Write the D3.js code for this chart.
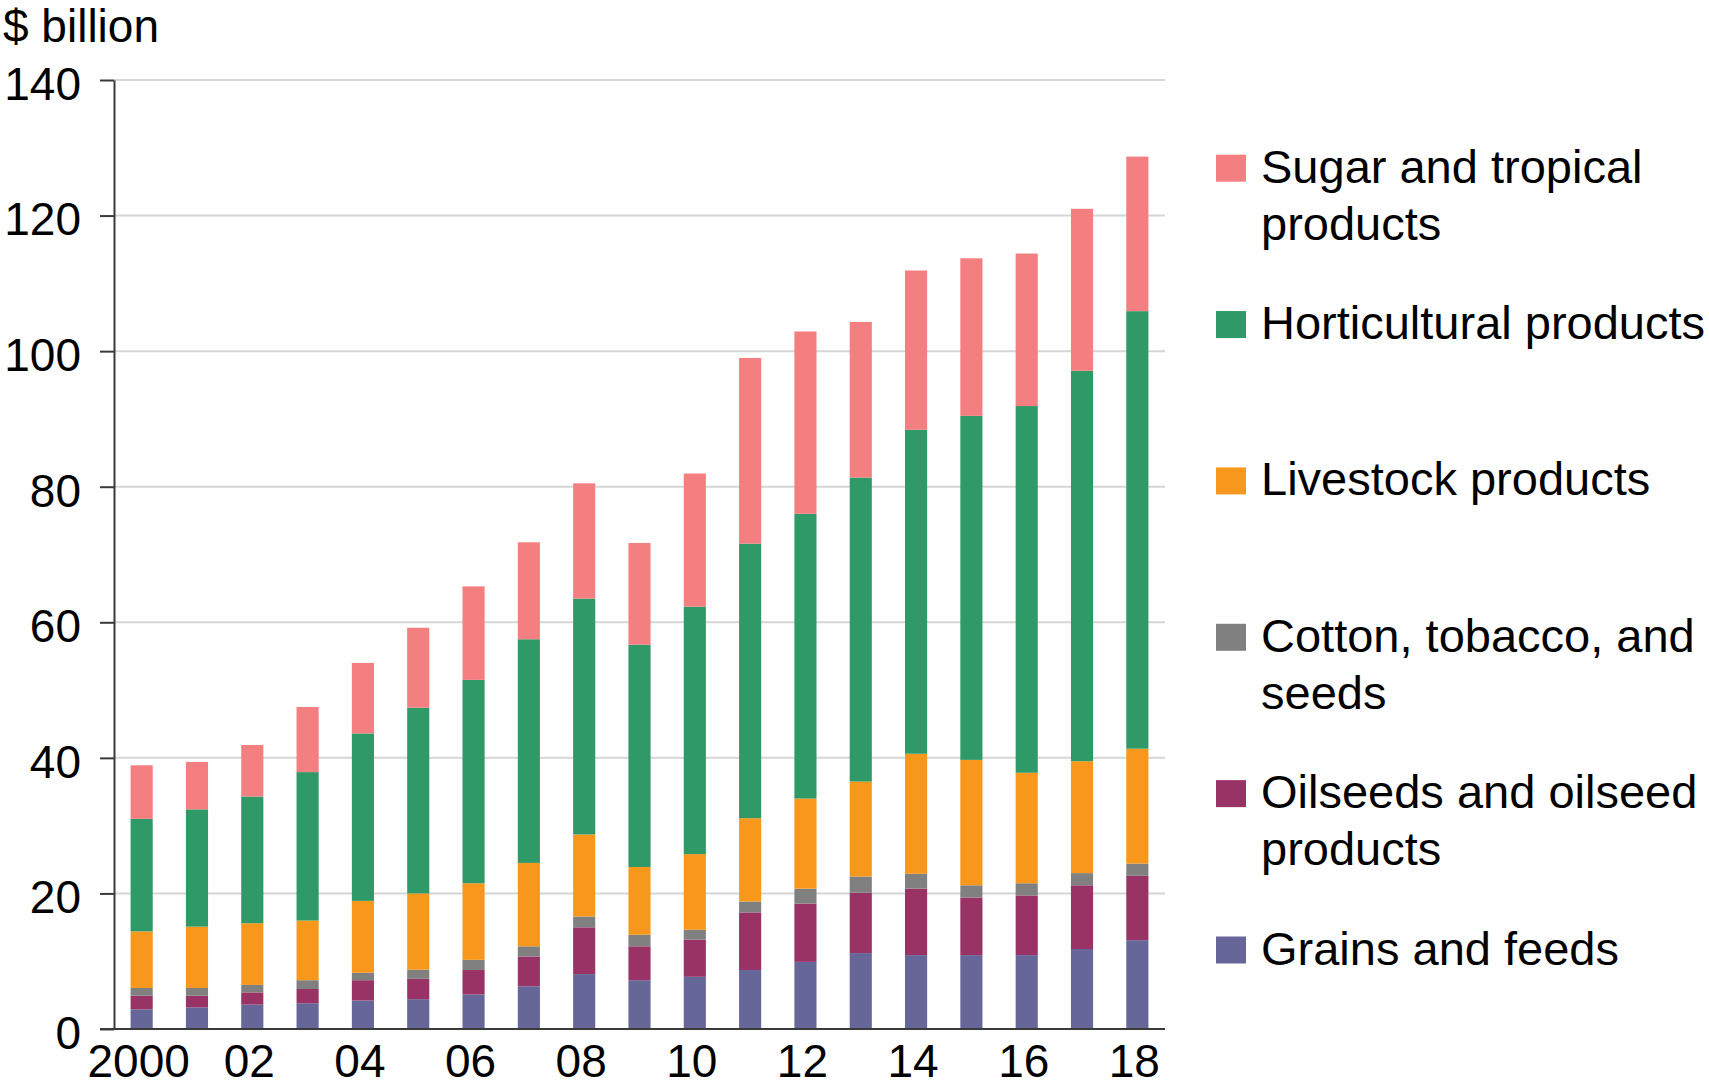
<!DOCTYPE html>
<html>
<head>
<meta charset="utf-8">
<script src="https://cdn.jsdelivr.net/npm/d3@7"></script>
<style>
  body { margin: 0; background: #fff; }
  svg { display: block; font-family: 'Liberation Sans', Arial, Helvetica, sans-serif; }
</style>
</head>
<body>
<svg id="chart" width="1709" height="1087"></svg>
<script>
const years = ['2000','2001','2002','2003','2004','2005','2006','2007','2008','2009',
  '2010','2011','2012','2013','2014','2015','2016','2017','2018'];
const yearLabels = ['2000','','02','','04','','06','','08','','10','','12','','14','','16','','18'];

// $ billion, stacked bottom to top
const grains = [2.9, 3.2, 3.6, 3.8, 4.2, 4.4, 5.1, 6.3, 8.1, 7.2, 7.7, 8.7, 9.9, 11.2, 10.9, 10.9, 10.9, 11.8, 13.1];
const oilseeds = [2.0, 1.7, 1.8, 2.1, 3.0, 3.0, 3.6, 4.4, 6.9, 5.0, 5.5, 8.5, 8.6, 8.9, 9.8, 8.5, 8.8, 9.4, 9.5];
const cotton = [1.15, 1.15, 1.1, 1.3, 1.1, 1.35, 1.5, 1.5, 1.6, 1.7, 1.45, 1.6, 2.2, 2.4, 2.2, 1.8, 1.8, 1.8, 1.8];
const livestock = [8.35, 9.05, 9.1, 8.8, 10.6, 11.25, 11.3, 12.3, 12.1, 10.0, 11.15, 12.3, 13.3, 14.0, 17.7, 18.5, 16.3, 16.5, 16.95];
const horticultural = [16.6, 17.3, 18.7, 21.9, 24.7, 27.4, 30.0, 33.0, 34.8, 32.8, 36.5, 40.5, 42.0, 44.85, 47.8, 50.75, 54.1, 57.6, 64.55];
const sugar = [7.9, 7.0, 7.6, 9.6, 10.4, 11.8, 13.8, 14.3, 17.0, 15.0, 19.65, 27.4, 26.9, 22.95, 23.5, 23.25, 22.5, 23.9, 22.8];

const seriesKeys = ['grains', 'oilseeds', 'cotton', 'livestock', 'horticultural', 'sugar'];
const seriesValues = [grains, oilseeds, cotton, livestock, horticultural, sugar];
const seriesNames = [
  ['Grains and feeds'],
  ['Oilseeds and oilseed', 'products'],
  ['Cotton, tobacco, and', 'seeds'],
  ['Livestock products'],
  ['Horticultural products'],
  ['Sugar and tropical', 'products']
];
const seriesColors = ['#666699', '#993366', '#808080', '#f7981d', '#2f9a68', '#f47f80'];
const yTicks = [0, 20, 40, 60, 80, 100, 120, 140];

const margin = { top: 80, right: 544, bottom: 58, left: 114 },
  width = 1709,
  height = 1087;

const svg = d3.select('#chart');

const rows = years.map((y, i) => {
  const r = { year: y };
  seriesKeys.forEach((k, j) => (r[k] = seriesValues[j][i]));
  return r;
});
const stacked = d3.stack().keys(seriesKeys)(rows);

const x = d3
  .scaleBand()
  .domain(years)
  .range([margin.left, width - margin.right])
  .paddingInner(0.6)
  .paddingOuter(0.3);

const y = d3
  .scaleLinear()
  .domain([0, 140])
  .range([height - margin.bottom, margin.top]);

const color = d3.scaleOrdinal().domain(seriesKeys).range(seriesColors);

// gridlines
svg
  .append('g')
  .selectAll('line')
  .data(yTicks.filter(d => d > 0))
  .join('line')
  .attr('x1', margin.left)
  .attr('x2', width - margin.right)
  .attr('y1', d => y(d))
  .attr('y2', d => y(d))
  .attr('stroke', '#d6d6d6')
  .attr('stroke-width', 2);

// bars
svg
  .append('g')
  .selectAll('g')
  .data(stacked)
  .join('g')
  .attr('fill', d => color(d.key))
  .selectAll('rect')
  .data(d => d)
  .join('rect')
  .attr('x', d => x(d.data.year))
  .attr('width', x.bandwidth())
  .attr('y', d => y(d[1]))
  .attr('height', d => y(d[0]) - y(d[1]));

// y axis
svg
  .append('g')
  .attr('transform', `translate(${margin.left},0)`)
  .call(d3.axisLeft(y).tickValues(yTicks).tickSize(14).tickPadding(19).tickSizeOuter(0))
  .call(g => g.selectAll('line, path').attr('stroke', '#3a3a3a').attr('stroke-width', 2))
  .call(g =>
    g
      .selectAll('text')
      .attr('font-size', 46)
      .attr('font-family', null)
      .attr('fill', '#000')
      .attr('dy', '0.42em')
  );

// x axis
svg
  .append('g')
  .attr('transform', `translate(0,${height - margin.bottom})`)
  .call(
    d3
      .axisBottom(x)
      .tickFormat((d, i) => yearLabels[i])
      .tickSize(0)
      .tickPadding(15)
  )
  .call(g => g.select('.domain').attr('d', `M${margin.left - 14},0H${width - margin.right}`))
  .call(g => g.selectAll('path').attr('stroke', '#3a3a3a').attr('stroke-width', 2))
  .call(g =>
    g
      .selectAll('text')
      .attr('font-size', 46)
      .attr('font-family', null)
      .attr('fill', '#000')
      .attr('x', -3)
  );

// unit label
svg
  .append('text')
  .attr('x', 3)
  .attr('y', 42)
  .attr('font-size', 46)
  .text('$ billion');

// legend, top to bottom
const legendKeys = seriesKeys.slice().reverse();
const ly = d3.scalePoint().domain(legendKeys).range([168.7, 950.5]);

const legend = svg
  .append('g')
  .selectAll('g')
  .data(legendKeys)
  .join('g')
  .attr('transform', d => `translate(1216,${ly(d)})`);

legend
  .append('rect')
  .attr('x', 0)
  .attr('y', -14)
  .attr('width', 30)
  .attr('height', 27)
  .attr('fill', d => color(d));

legend
  .append('text')
  .attr('x', 45)
  .attr('y', 14)
  .attr('font-size', 47)
  .selectAll('tspan')
  .data(d => seriesNames[seriesKeys.indexOf(d)])
  .join('tspan')
  .attr('x', 45)
  .attr('dy', (d, i) => (i === 0 ? 0 : 57))
  .text(d => d);
</script>
</body>
</html>
